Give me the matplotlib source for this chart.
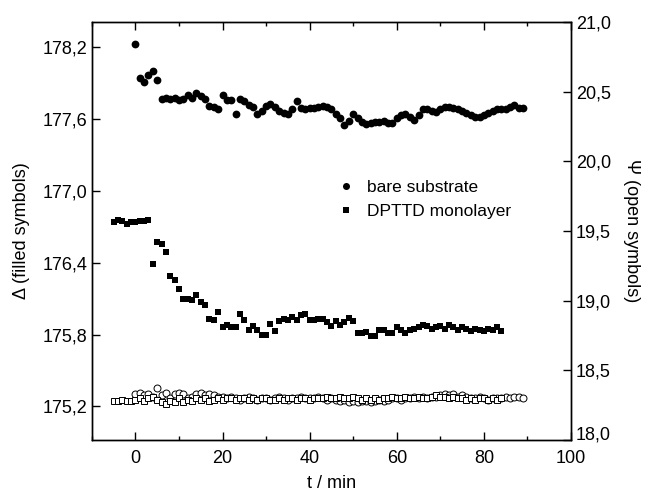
import numpy as np
import matplotlib
matplotlib.use("Agg")
from matplotlib import pyplot as plt
from matplotlib import transforms
from matplotlib.ticker import FuncFormatter, MultipleLocator

plt.rcParams['font.family'] = ['Liberation Sans', 'DejaVu Sans']

# bare substrate, Delta (filled circles), t = 0 ... 89 min
t_bare = np.arange(0, 90)
delta_bare = [
    178.23, 177.945, 177.91, 177.97, 178.00, 177.93, 177.77, 177.78, 177.77, 177.78,
    177.76, 177.77, 177.80, 177.78, 177.82, 177.79, 177.77, 177.71, 177.70, 177.68,
    177.80, 177.76, 177.76, 177.64, 177.77, 177.75, 177.72, 177.70, 177.64, 177.67,
    177.71, 177.73, 177.70, 177.67, 177.65, 177.64, 177.68, 177.75, 177.69, 177.68,
    177.69, 177.69, 177.70, 177.71, 177.70, 177.68, 177.64, 177.61, 177.55, 177.58,
    177.64, 177.61, 177.575, 177.56, 177.565, 177.575, 177.575, 177.58, 177.57, 177.57,
    177.61, 177.63, 177.64, 177.62, 177.59, 177.63, 177.68, 177.68, 177.665, 177.66,
    177.68, 177.70, 177.70, 177.69, 177.685, 177.67, 177.65, 177.63, 177.62, 177.62,
    177.63, 177.65, 177.67, 177.685, 177.68, 177.68, 177.70, 177.72, 177.695, 177.69,
]

# DPTTD monolayer, Delta (filled squares), t = -5 ... 84 min
t_mono = np.arange(-5, 85)
delta_mono = [
    176.74, 176.76, 176.75, 176.72, 176.74, 176.74, 176.745, 176.75, 176.76, 176.39,
    176.57, 176.56, 176.49, 176.29, 176.26, 176.18, 176.10, 176.10, 176.085, 176.13,
    176.07, 176.05, 175.93, 175.92, 175.99, 175.86, 175.88, 175.86, 175.86, 175.97,
    175.92, 175.84, 175.87, 175.84, 175.80, 175.80, 175.885, 175.83, 175.91, 175.93,
    175.92, 175.95, 175.92, 175.96, 175.975, 175.92, 175.925, 175.93, 175.93, 175.905,
    175.87, 175.91, 175.88, 175.905, 175.94, 175.91, 175.81, 175.81, 175.82, 175.785,
    175.79, 175.835, 175.84, 175.81, 175.81, 175.86, 175.835, 175.81, 175.835, 175.85,
    175.86, 175.88, 175.87, 175.85, 175.86, 175.87, 175.85, 175.88, 175.86, 175.84,
    175.86, 175.85, 175.83, 175.85, 175.84, 175.83, 175.85, 175.84, 175.86, 175.83,
]

# Psi (open symbols)
psi_bare = [
    18.33, 18.34, 18.32, 18.33, 18.31, 18.37, 18.32, 18.34, 18.30, 18.33,
    18.34, 18.33, 18.30, 18.31, 18.33, 18.34, 18.32, 18.33, 18.32, 18.31,
    18.31, 18.30, 18.31, 18.30, 18.29, 18.30, 18.31, 18.30, 18.29, 18.30,
    18.30, 18.29, 18.30, 18.31, 18.30, 18.29, 18.30, 18.30, 18.31, 18.30,
    18.30, 18.30, 18.31, 18.30, 18.29, 18.30, 18.29, 18.28, 18.29, 18.27,
    18.28, 18.27, 18.28, 18.28, 18.27, 18.28, 18.29, 18.28, 18.29, 18.30,
    18.30, 18.29, 18.30, 18.30, 18.31, 18.30, 18.31, 18.30, 18.31, 18.31,
    18.32, 18.33, 18.32, 18.33, 18.31, 18.32, 18.31, 18.30, 18.30, 18.31,
    18.30, 18.29, 18.30, 18.30, 18.30, 18.31, 18.30, 18.31, 18.31, 18.30,
]
psi_mono = [
    18.28, 18.28, 18.29, 18.28, 18.28, 18.29, 18.30, 18.28, 18.30, 18.31,
    18.29, 18.27, 18.26, 18.28, 18.27, 18.30, 18.27, 18.29, 18.28, 18.30,
    18.29, 18.30, 18.28, 18.29, 18.30, 18.29, 18.30, 18.30, 18.29, 18.30,
    18.30, 18.29, 18.30, 18.29, 18.30, 18.30, 18.29, 18.29, 18.30, 18.29,
    18.30, 18.30, 18.29, 18.30, 18.30, 18.29, 18.30, 18.30, 18.30, 18.31,
    18.30, 18.30, 18.31, 18.30, 18.30, 18.31, 18.30, 18.29, 18.30, 18.29,
    18.30, 18.29, 18.30, 18.30, 18.31, 18.30, 18.30, 18.31, 18.30, 18.30,
    18.31, 18.30, 18.30, 18.31, 18.32, 18.31, 18.31, 18.30, 18.31, 18.30,
    18.30, 18.29, 18.30, 18.29, 18.30, 18.30, 18.29, 18.30, 18.29, 18.30,
]

comma = FuncFormatter(lambda v, p: f"{v:.1f}".replace(".", ","))
intfmt = FuncFormatter(lambda v, p: f"{v:.0f}")

fig = plt.figure(figsize=(6.47, 4.91), dpi=100)
ax = fig.add_axes([0.142, 0.104, 0.7405, 0.851])
ax2 = ax.twinx()

ax.plot(t_bare, delta_bare, 'o', color='black', ms=5.6, mew=0,
        label='bare substrate')
ax.plot(t_mono, delta_mono, 's', color='black', ms=5, mew=0,
        label='DPTTD monolayer')

ax2.plot(t_bare, psi_bare, 'o', mfc='white', mec='black', ms=5, mew=0.7)
ax2.plot(t_mono, psi_mono, 's', mfc='white', mec='black', ms=4.5, mew=0.7)

ax.set_xlim(-10, 100)
ax.set_ylim(174.92, 178.41)
ax2.set_ylim(18.0, 21.0)

ax.xaxis.set_major_locator(MultipleLocator(20))
ax.xaxis.set_minor_locator(MultipleLocator(10))
ax.xaxis.set_major_formatter(intfmt)
ax.set_yticks(np.arange(175.2, 178.3, 0.6))
ax.yaxis.set_major_formatter(comma)
ax2.yaxis.set_major_locator(MultipleLocator(0.5))
ax2.yaxis.set_major_formatter(comma)

ax.tick_params(axis='both', which='major', direction='in', length=6, width=1,
               labelsize=13, top=True)
ax.tick_params(axis='x', which='major', pad=7)
ax.tick_params(axis='x', which='minor', direction='in', length=3, width=1, top=True)
ax2.tick_params(axis='y', which='major', direction='in', length=6, width=1,
                labelsize=13)
for s in list(ax.spines.values()) + list(ax2.spines.values()):
    s.set_linewidth(1)

ax.set_xlabel("t / min", fontsize=13, labelpad=6)
ax.set_ylabel("Δ (filled symbols)", fontsize=13, labelpad=9)
ax2.set_ylabel("Ψ (open symbols)", fontsize=13, rotation=270, labelpad=21)

ax.legend(loc='center left', bbox_to_anchor=(0.47, 0.575), frameon=False,
          fontsize=12.5, handletextpad=0.5, markerscale=0.9, handlelength=1.5,
          labelspacing=0.5)

# lift the lowest right-hand label a little, as in the original
fig.canvas.draw()
for tick in ax2.yaxis.get_major_ticks():
    if abs(tick.get_loc() - 18.0) < 1e-6:
        lab = tick.label2
        lab.set_transform(lab.get_transform() +
                          transforms.ScaledTranslation(0, 5 / 72, fig.dpi_scale_trans))

fig.savefig("out.png", dpi=100)
